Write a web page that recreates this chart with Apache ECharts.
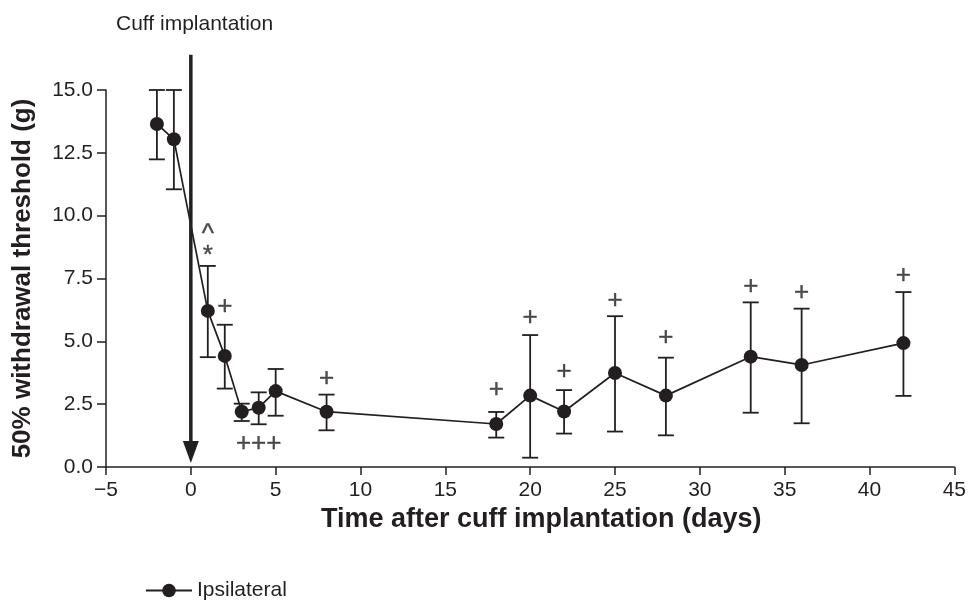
<!DOCTYPE html>
<html>
<head>
<meta charset="utf-8">
<script src="https://cdn.jsdelivr.net/npm/echarts@6/dist/echarts.min.js"></script>
<style>
html,body{margin:0;padding:0;background:#fff;}
#chart{width:969px;height:601px;}
</style>
</head>
<body>
<div id="chart"></div>
<script>
// ---- data ----
var days = [-2, -1, 1, 2, 3, 4, 5, 8, 18, 20, 22, 25, 28, 33, 36, 42];
var threshold = [13.65, 13.04, 6.21, 4.42, 2.20, 2.36, 3.02, 2.20, 1.71, 2.84, 2.21, 3.74, 2.84, 4.39, 4.06, 4.93];
var errUpper = [15.0, 15.0, 8.0, 5.66, 2.52, 2.97, 3.90, 2.88, 2.19, 5.25, 3.06, 6.0, 4.35, 6.55, 6.30, 6.96];
var errLower = [12.24, 11.05, 4.37, 3.12, 1.83, 1.70, 2.04, 1.46, 1.17, 0.37, 1.33, 1.41, 1.26, 2.16, 1.74, 2.83];
var annText = ['^', '*', '+', '+++', '+', '+', '+', '+', '+', '+', '+', '+', '+'];
var annX = [1, 1, 2, 4, 8, 18, 20, 22, 25, 28, 33, 36, 42];
var annY = [9.25, 8.4, 6.38, 0.94, 3.5, 3.09, 5.94, 3.79, 6.62, 5.12, 7.17, 6.94, 7.61];
var arrowX = [0, 0];
var arrowY = [16.4, 0.6];
var xTicks = {min: -5, max: 45, step: 5};
var yTicks = {min: 0, max: 15, step: 2.5};
var seriesName = 'Ipsilateral';
var topNote = 'Cuff implantation';

var ink = '#231f20';
var font = 'Arial, "Liberation Sans", Helvetica, sans-serif';

var mainData = days.map(function (d, i) { return [d, threshold[i]]; });
var errData = days.map(function (d, i) { return [d, errLower[i], errUpper[i]]; });
var annData = annX.map(function (x, i) { return {value: [x, annY[i]], label: {formatter: annText[i]}}; });
var arrowData = [
  {value: [arrowX[0], arrowY[0]], symbol: 'none'},
  {value: [arrowX[1], arrowY[1]], symbol: 'triangle', symbolSize: [16, 22], symbolRotate: 180}
];

var chart = echarts.init(document.getElementById('chart'));
chart.setOption({
  animation: false,
  backgroundColor: '#fff',
  textStyle: {fontFamily: font, color: ink},
  title: {
    text: topNote, left: 111, top: 9,
    textStyle: {fontFamily: font, fontSize: 21, fontWeight: 'normal', color: ink}
  },
  grid: {left: 106, right: 14, top: 90, bottom: 134},
  legend: {
    data: [seriesName], left: 140, top: 575,
    itemWidth: 46, itemHeight: 17, itemGap: 6,
    textStyle: {fontFamily: font, fontSize: 21, color: ink}
  },
  xAxis: {
    type: 'value', min: xTicks.min, max: xTicks.max, interval: xTicks.step,
    name: 'Time after cuff implantation (days)', nameLocation: 'middle', nameGap: 37,
    nameTextStyle: {fontFamily: font, fontSize: 27, fontWeight: 'bold', color: ink, padding: [0, 0, 0, 22]},
    axisLine: {onZero: false, lineStyle: {color: ink, width: 1.5}},
    axisTick: {show: true, inside: false, length: 8, lineStyle: {color: ink, width: 1.5}},
    axisLabel: {
      color: ink, fontSize: 21, fontFamily: font, margin: 13,
      formatter: function (v) { return v < 0 ? '\u2212' + Math.abs(v) : String(v); }
    },
    splitLine: {show: false}
  },
  yAxis: {
    type: 'value', min: yTicks.min, max: yTicks.max, interval: yTicks.step,
    name: '50% withdrawal threshold (g)', nameLocation: 'middle', nameGap: 70,
    nameTextStyle: {fontFamily: font, fontSize: 26, fontWeight: 'bold', color: ink},
    axisLine: {show: true, onZero: false, lineStyle: {color: ink, width: 1.5}},
    axisTick: {show: true, inside: false, length: 9, lineStyle: {color: ink, width: 1.5}},
    axisLabel: {
      color: ink, fontSize: 21, fontFamily: font, margin: 13,
      formatter: function (v) { return v.toFixed(1); }
    },
    splitLine: {show: false}
  },
  series: [
    {
      name: 'errorbars', type: 'custom', z: 2,
      data: errData,
      renderItem: function (params, api) {
        var x = api.value(0);
        var lo = api.coord([x, api.value(1)]);
        var hi = api.coord([x, api.value(2)]);
        var hw = 8;
        var st = {stroke: ink, lineWidth: 1.8};
        return {
          type: 'group',
          children: [
            {type: 'line', shape: {x1: lo[0], y1: lo[1], x2: hi[0], y2: hi[1]}, style: st},
            {type: 'line', shape: {x1: hi[0] - hw, y1: hi[1], x2: hi[0] + hw, y2: hi[1]}, style: st},
            {type: 'line', shape: {x1: lo[0] - hw, y1: lo[1], x2: lo[0] + hw, y2: lo[1]}, style: st}
          ]
        };
      }
    },
    {
      name: seriesName, type: 'line', z: 3,
      data: mainData,
      symbol: 'circle', symbolSize: 14,
      lineStyle: {color: ink, width: 1.7},
      itemStyle: {color: ink}
    },
    {
      name: 'arrow', type: 'line', z: 4, clip: false,
      data: arrowData,
      lineStyle: {color: ink, width: 3.5},
      itemStyle: {color: ink}
    },
    {
      name: 'annotations', type: 'scatter', z: 5,
      data: annData, symbolSize: 0,
      label: {
        show: true, position: 'inside', color: ink,
        fontFamily: font, fontSize: 26,
        textBorderColor: ink, textBorderWidth: 0.4
      }
    }
  ]
});
</script>
</body>
</html>
